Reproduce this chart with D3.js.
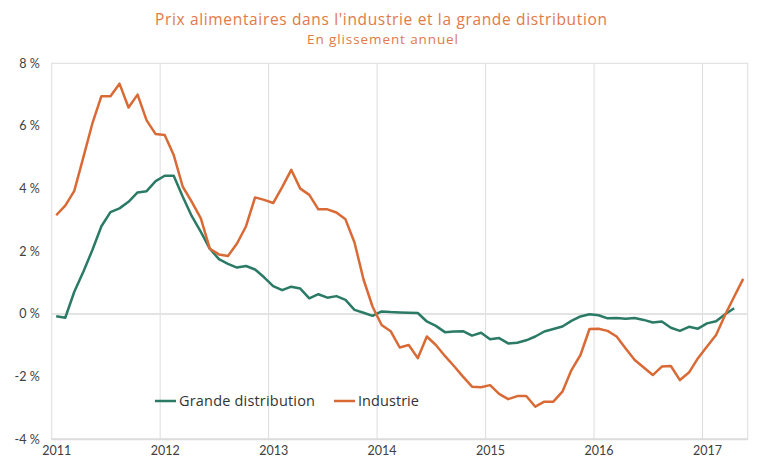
<!DOCTYPE html>
<html><head><meta charset="utf-8">
<script src="https://cdn.jsdelivr.net/npm/d3@7"></script>
<style>body{margin:0;background:#fff}svg{display:block}</style>
</head><body><svg id="c" width="758" height="459"></svg>
<script>
const startYear = 2011;
const years = [2011, 2012, 2013, 2014, 2015, 2016, 2017];
const yTicks = [-4, -2, 0, 2, 4, 6, 8];
const seriesNames = ["Grande distribution", "Industrie"];
// monthly values from Jan 2011
const grandeDistribution = [
 -0.07,-0.12,0.71,1.35,2.04,2.8,3.25,3.37,3.58,3.88,3.92,4.24,
 4.41,4.41,3.74,3.12,2.62,2.08,1.75,1.6,1.48,1.53,1.42,1.17,
 0.89,0.76,0.87,0.81,0.5,0.63,0.52,0.57,0.45,0.13,0.04,-0.06,
 0.08,0.06,0.05,0.04,0.03,-0.24,-0.38,-0.58,-0.56,-0.55,-0.69,-0.6,
 -0.81,-0.77,-0.94,-0.92,-0.84,-0.72,-0.56,-0.48,-0.4,-0.22,-0.08,-0.01,
 -0.04,-0.14,-0.13,-0.15,-0.13,-0.19,-0.27,-0.24,-0.44,-0.54,-0.41,-0.47,
 -0.3,-0.23,-0.01,0.18
];
const industrie = [
 3.15,3.46,3.93,5.0,6.08,6.95,6.95,7.35,6.59,7.0,6.18,5.74,
 5.71,5.07,4.06,3.58,3.05,2.08,1.9,1.85,2.25,2.8,3.72,3.64,
 3.54,4.05,4.6,4.0,3.8,3.34,3.34,3.24,3.02,2.28,1.1,0.23,
 -0.35,-0.55,-1.07,-0.99,-1.41,-0.72,-0.99,-1.34,-1.66,-2.0,-2.32,-2.34,
 -2.27,-2.55,-2.72,-2.62,-2.62,-2.96,-2.8,-2.8,-2.48,-1.79,-1.31,-0.48,
 -0.47,-0.54,-0.72,-1.1,-1.47,-1.71,-1.95,-1.68,-1.66,-2.11,-1.87,-1.41,
 -1.04,-0.67,-0.03,0.55,1.12
];
const colors = ["#2a7a66", "#d96a36"];

const svg = d3.select("#c");
const L = 51.7, R = 747.7, T = 63.3, B = 439.3;
const x = d3.scaleLinear().domain([2011, 2017 + 5/12]).range([L, R]);
const y = d3.scaleLinear().domain([-4, 8]).range([B, T]);
const mx = i => x(startYear + (i + 0.5) / 12);

// frame & grid
const g = svg.append("g");
g.append("rect").attr("x", L).attr("y", T).attr("width", R - L).attr("height", B - T)
  .attr("fill", "none").attr("stroke", "#dcdcdc").attr("stroke-width", 1);
g.selectAll(".vg").data(years.slice(1)).join("line")
  .attr("x1", d => x(d)).attr("x2", d => x(d)).attr("y1", T).attr("y2", B)
  .attr("stroke", "#dcdcdc").attr("stroke-width", 1);
g.append("line").attr("x1", L).attr("x2", R).attr("y1", y(0)).attr("y2", y(0))
  .attr("stroke", "#e3e3e3").attr("stroke-width", 2);
g.append("line").attr("x1", L).attr("x2", R).attr("y1", B).attr("y2", B)
  .attr("stroke", "#dcdcdc").attr("stroke-width", 2);

// axes
const yAxis = d3.axisLeft(y).tickValues(yTicks).tickSize(0).tickPadding(12)
  .tickFormat(d => d + " %");
svg.append("g").attr("transform", `translate(${L},0)`).call(yAxis)
  .call(a => a.select(".domain").remove())
  .selectAll("text").attr("font-family", "Lato, sans-serif").attr("font-size", 12.5).attr("fill", "#404040");
const xAxis = d3.axisBottom(x).tickValues(years.map(yy => yy + 0.5/12)).tickSize(0).tickPadding(7)
  .tickFormat(d => String(Math.floor(d)));
svg.append("g").attr("transform", `translate(0,${B})`).call(xAxis)
  .call(a => a.select(".domain").remove())
  .selectAll("text").attr("font-family", "Lato, sans-serif").attr("font-size", 12.5).attr("fill", "#404040");

// lines
const line = d3.line().x((d, i) => mx(i)).y(d => y(d));
[grandeDistribution, industrie].forEach((s, k) => {
  svg.append("path").attr("d", line(s)).attr("fill", "none")
    .attr("stroke", colors[k]).attr("stroke-width", 2.5).attr("stroke-linejoin", "round");
});

// legend
const leg = [{x: 155, w: 136, name: seriesNames[0], c: colors[0]}, {x: 334, w: 61, name: seriesNames[1], c: colors[1]}];
leg.forEach(l => {
  svg.append("line").attr("x1", l.x).attr("x2", l.x + 21).attr("y1", 401).attr("y2", 401)
    .attr("stroke", l.c).attr("stroke-width", 2.5);
  svg.append("text").attr("x", l.x + 24).attr("y", 406).text(l.name)
    .attr("textLength", l.w).attr("lengthAdjust", "spacing")
    .attr("font-family", "'Open Sans', sans-serif").attr("font-size", 14.5).attr("fill", "#333");
});

// titles
svg.append("text").attr("x", 155).attr("y", 25)
  .text("Prix alimentaires dans l'industrie et la grande distribution")
  .attr("textLength", 452).attr("lengthAdjust", "spacing")
  .attr("font-family", "'Open Sans', sans-serif").attr("font-size", 15.5).attr("fill", "#e07a48");
svg.append("text").attr("x", 307).attr("y", 44)
  .text("En glissement annuel")
  .attr("textLength", 151).attr("lengthAdjust", "spacing")
  .attr("font-family", "'Open Sans', sans-serif").attr("font-size", 13.5).attr("fill", "#e07a48");
</script></body></html>
